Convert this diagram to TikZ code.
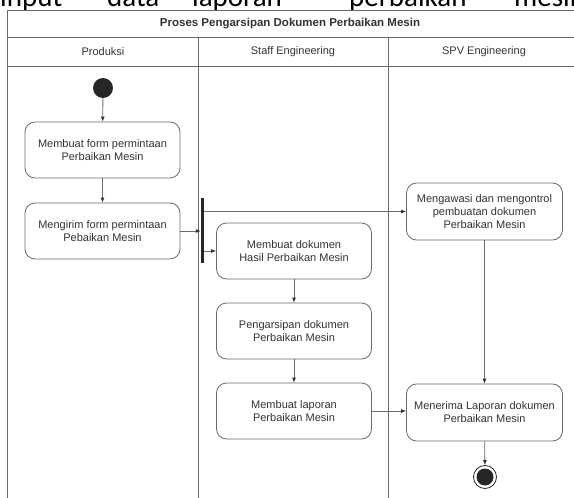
\documentclass[tikz,border=0pt]{standalone}
\usepackage{fontspec}
\setmainfont{Liberation Sans}
\newfontfamily\bigfont{Carlito}
\usetikzlibrary{arrows.meta}
\definecolor{ln}{HTML}{6A6A6A}
\definecolor{tx}{HTML}{333333}
\begin{document}
\begin{tikzpicture}[x=1pt,y=-1pt,
  frame/.style={draw=ln,line width=1pt},
  act/.style={draw=ln,line width=0.8pt,rounded corners=10pt,fill=white,
    minimum width=155pt,align=center,inner sep=0pt,text=tx,
    font=\fontsize{11}{13}\selectfont},
  flow/.style={draw=ln,line width=0.8pt,-{Latex[length=5pt,width=4pt,color=black!80]}},
  lab/.style={text=tx,font=\fontsize{11}{13}\selectfont,inner sep=0pt}]
\useasboundingbox (0,0) rectangle (574,498);
\begin{scope}
\clip (0,0) rectangle (574,498);
% cut-off text line above
\node[anchor=base west,inner sep=0pt,font=\bigfont\fontsize{29}{30}\selectfont] (w1) at (0,6) {input};
\node[anchor=base west,inner sep=0pt,font=\bigfont\fontsize{29}{30}\selectfont] (w2) at (107,6) {data};
\node[anchor=base west,inner sep=0pt,font=\bigfont\fontsize{29}{30}\selectfont] (w3) at (192,6) {laporan};
\node[anchor=base west,inner sep=0pt,font=\bigfont\fontsize{29}{30}\selectfont] (w4) at (349,6) {perbaikan};
\node[anchor=base west,inner sep=0pt,font=\bigfont\fontsize{29}{30}\selectfont] (w5) at (514,6) {mesin};
\end{scope}
% frame
\draw[frame] (574,10.5) -- (7.5,10.5) -- (7.5,498);
\draw[frame] (7.5,37.5) -- (574,37.5);
\draw[frame] (7.5,66.5) -- (574,66.5);
\draw[frame] (198.5,37.5) -- (198.5,498);
\draw[frame] (388.5,37.5) -- (388.5,498);
\node[lab,font=\bfseries\fontsize{11.5}{13}\selectfont] (title) at (290,23.5) {Proses Pengarsipan Dokumen Perbaikan Mesin};
\node[lab] (h1) at (103,51.5) {Produksi};
\node[lab] (h2) at (293,51.5) {Staff Engineering};
\node[lab] (h3) at (484,51.5) {SPV Engineering};
% nodes
\node[circle,fill=black!85,minimum size=20pt,inner sep=0pt] (start) at (103,88) {};
\node[act,minimum height=56pt] (a1) at (102.5,150) {Membuat form permintaan\\Perbaikan Mesin};
\node[act,minimum height=56pt] (a2) at (102.5,231) {Mengirim form permintaan\\Pebaikan Mesin};
\node[fill=black!85,minimum width=3pt,minimum height=65pt,inner sep=0pt] (fork) at (202.5,230.5) {};
\node[act,minimum height=56pt] (a3) at (294,251) {Membuat dokumen\\Hasil Perbaikan Mesin};
\node[act,minimum height=56pt] (a4) at (294,331) {Pengarsipan dokumen\\Perbaikan Mesin};
\node[act,minimum height=56pt] (a5) at (294,411) {Membuat laporan\\Perbaikan Mesin};
\node[act,minimum height=57pt,minimum width=156pt] (b1) at (484.5,211.5) {Mengawasi dan mengontrol\\pembuatan dokumen\\Perbaikan Mesin};
\node[act,minimum height=57pt,minimum width=156pt] (b2) at (484.5,412.5) {Menerima Laporan dokumen\\Perbaikan Mesin};
\node[circle,draw=black!85,line width=0.8pt,minimum size=23pt,inner sep=0pt] (end) at (485,477) {};
\node[circle,fill=black!85,minimum size=17pt,inner sep=0pt] (endin) at (end) {};
% flows
\draw[flow] (start) -- (a1);
\draw[flow] (a1) -- (a2);
\draw[flow] (a2.east) -- (a2.east -| fork.west);
\draw[flow] (fork.east |- a3.west) -- (a3.west);
\draw[flow] (fork.east |- b1.west) -- (b1.west);
\draw[flow] (a3) -- (a4);
\draw[flow] (a4) -- (a5);
\draw[flow] (a5.east) -- (a5.east -| b2.west);
\draw[flow] (b1.south -| b2.north) -- (b2.north);
\draw[flow] (b2) -- (end);
\end{tikzpicture}
\end{document}
